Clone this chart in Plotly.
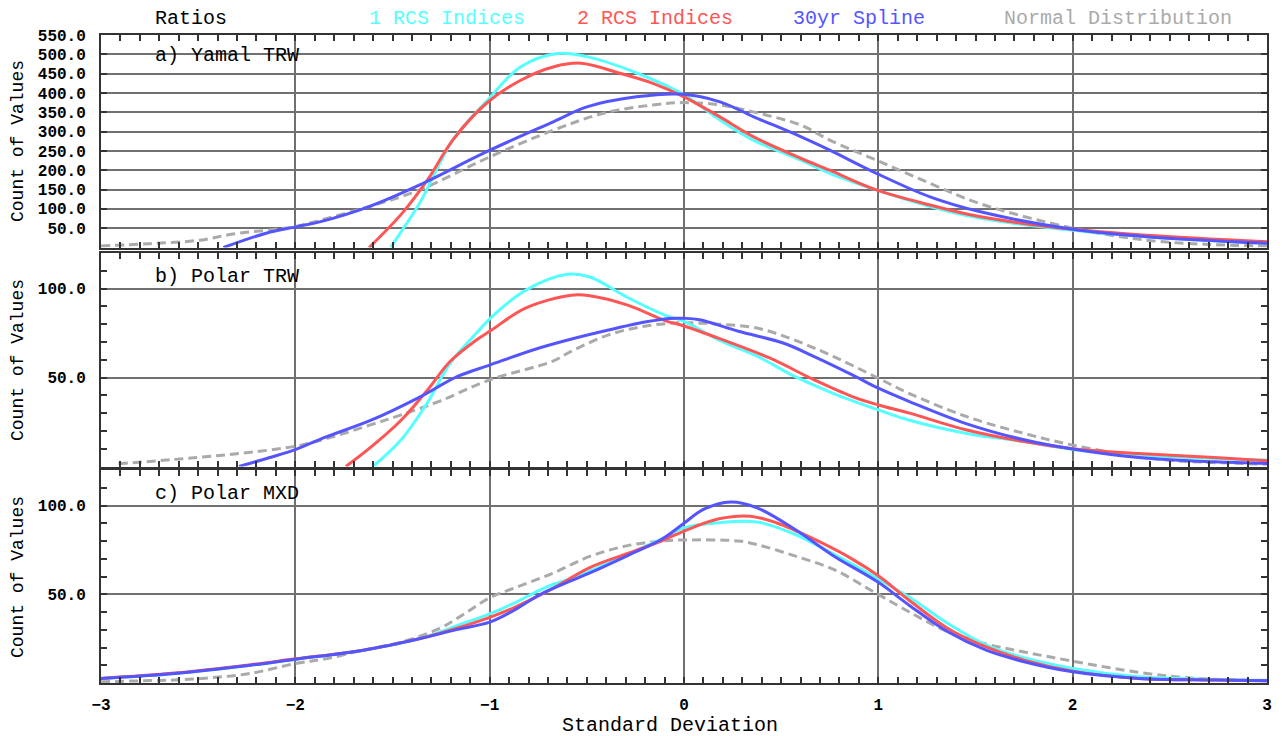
import plotly.graph_objects as go

# ---------------- data ----------------
# Panel a) Yamal TRW
a_rcs1_x = [-1.51, -1.45, -1.36, -1.19, -1.01, -0.84, -0.65, -0.5, -0.24, 0.0, 0.185, 0.356, 0.6, 0.75, 0.99, 1.266, 1.52, 1.99, 2.38, 3.0]
a_rcs1_y = [0, 45, 115, 278, 382, 468, 502, 494, 451, 395, 330, 278, 226, 192, 149, 106, 76, 45, 28, 11]
a_rcs2_x = [-1.62, -1.45, -1.32, -1.19, -1.015, -0.84, -0.67, -0.53, -0.33, -0.16, 0.0, 0.185, 0.356, 0.6, 0.75, 0.99, 1.266, 1.52, 2.0, 2.38, 3.0]
a_rcs2_y = [0, 89, 175, 278, 374, 433, 468, 477, 451, 425, 390, 338, 287, 231, 200, 149, 110, 80, 47, 32, 15]
a_spl_x = [-2.37, -2.15, -1.99, -1.87, -1.62, -1.36, -1.015, -0.67, -0.5, -0.245, -0.02, 0.185, 0.356, 0.6, 0.75, 0.99, 1.266, 1.52, 2.0, 2.38, 3.0]
a_spl_y = [0, 37, 54, 67, 106, 162, 248, 326, 364, 390, 397, 377, 339, 287, 252, 192, 131, 93, 47, 28, 11]
a_norm_x = [-3.0, -2.75, -2.49, -2.32, -2.0, -1.87, -1.62, -1.36, -1.015, -0.67, -0.41, -0.16, 0.0, 0.185, 0.356, 0.6, 0.75, 0.99, 1.266, 1.52, 2.0, 2.38, 2.7, 3.0]
a_norm_y = [4, 10, 19, 35, 54, 71, 106, 149, 231, 304, 348, 369, 375, 369, 351, 317, 278, 226, 166, 114, 50, 19, 8, 4]

# Panel b) Polar TRW
b_rcs1_x = [-1.60, -1.456, -1.32, -1.204, -1.068, -0.97, -0.816, -0.60, -0.485, -0.29, -0.097, 0.0, 0.18, 0.376, 0.57, 0.77, 1.0, 1.16, 1.455, 1.75, 2.0, 2.34, 2.73, 3.0]
b_rcs1_y = [0, 15, 36, 58, 75, 86, 99, 108, 106.5, 95, 85, 81.6, 71, 62, 50.6, 41, 31.8, 26, 18.6, 14, 9.6, 6.4, 4.5, 3.6]
b_rcs2_x = [-1.74, -1.61, -1.456, -1.32, -1.204, -1.07, -0.99, -0.816, -0.58, -0.485, -0.29, -0.097, 0.0, 0.18, 0.44, 0.67, 0.866, 1.0, 1.16, 1.455, 1.75, 2.0, 2.34, 2.73, 3.0]
b_rcs2_y = [0, 11, 26, 43, 59, 71, 76.7, 89, 96.3, 96, 90.7, 82, 79, 72, 61, 48.7, 39.3, 34.6, 30, 20.5, 14, 10, 7.3, 5, 3.2]
b_spl_x = [-2.29, -2.136, -2.0, -1.845, -1.61, -1.36, -1.165, -1.0, -0.777, -0.583, -0.388, -0.194, -0.078, 0.0, 0.08, 0.28, 0.51, 0.67, 0.866, 1.0, 1.16, 1.455, 1.75, 2.0, 2.34, 2.73, 3.0]
b_spl_y = [0, 4.9, 9.5, 16.5, 26, 39, 50.6, 57, 65.5, 71.5, 76.7, 81.3, 83.2, 83.3, 82.5, 76, 69.4, 61.8, 51.5, 44, 36.5, 24, 15, 9.8, 5, 2.6, 1.7]
b_norm_x = [-2.91, -2.62, -2.43, -2.23, -2.0, -1.845, -1.61, -1.456, -1.26, -1.0, -0.68, -0.583, -0.388, -0.194, 0.0, 0.18, 0.376, 0.57, 0.77, 1.0, 1.16, 1.455, 1.75, 2.0, 2.34, 2.54, 3.0]
b_norm_y = [1.5, 4, 5.8, 8, 11.4, 15.5, 23.5, 29, 36.6, 48.7, 59, 64.6, 74, 79, 80.8, 80, 77.8, 71, 61.8, 49.6, 41, 28, 18.6, 12, 5.5, 3.2, 1.3]

# Panel c) Polar MXD
c_rcs1_x = [-3.0, -2.62, -2.23, -2.0, -1.65, -1.36, -1.165, -1.0, -0.874, -0.72, -0.583, -0.485, -0.29, -0.117, 0.0, 0.18, 0.376, 0.57, 0.77, 1.0, 1.16, 1.36, 1.555, 1.75, 2.0, 2.34, 2.73, 3.0]
c_rcs1_y = [2.6, 5.4, 10, 13.4, 18.5, 25, 32.5, 39, 45, 53.5, 58.8, 63, 72.5, 81, 87.5, 90.3, 90.7, 83.8, 72.6, 58.6, 48.3, 33.4, 21.3, 14.2, 8.2, 3.5, 2, 1.5]
c_rcs2_x = [-3.0, -2.62, -2.23, -2.0, -1.65, -1.36, -1.165, -1.0, -0.874, -0.68, -0.485, -0.29, -0.117, 0.0, 0.18, 0.34, 0.475, 0.67, 0.866, 1.0, 1.16, 1.36, 1.555, 1.75, 2.0, 2.34, 2.73, 3.0]
c_rcs2_y = [2.6, 5.6, 10.3, 13.6, 18.5, 25, 31, 37, 42.5, 53, 65, 73, 80, 85.6, 92.5, 94, 90.3, 81, 69.8, 60.4, 46.5, 30.6, 20.3, 12.9, 6.7, 2.6, 1.7, 1.2]
c_spl_x = [-3.0, -2.62, -2.23, -2.0, -1.65, -1.36, -1.165, -1.0, -0.874, -0.738, -0.583, -0.485, -0.29, -0.117, 0.0, 0.1, 0.24, 0.376, 0.57, 0.77, 1.0, 1.16, 1.36, 1.555, 1.75, 2.0, 2.34, 2.73, 3.0]
c_spl_y = [2.6, 5.4, 10, 13.4, 18.5, 25, 30.2, 34.3, 41, 50, 57.5, 62, 71.8, 80.8, 90, 97.8, 102, 98.7, 86.6, 71.6, 56.7, 43.7, 28.7, 18.5, 12, 6.3, 2.6, 1.7, 1.2]
c_norm_x = [-3.0, -2.8, -2.62, -2.43, -2.23, -2.0, -1.845, -1.65, -1.456, -1.26, -1.13, -1.0, -0.874, -0.68, -0.485, -0.29, -0.097, 0.0, 0.28, 0.376, 0.57, 0.77, 0.966, 1.16, 1.36, 1.555, 1.75, 2.0, 2.34, 2.63, 2.9]
c_norm_y = [0.7, 1.2, 1.7, 3, 5.4, 11, 13.6, 18.5, 23, 30.6, 39, 48, 53.5, 61.6, 71.3, 77.4, 80.2, 80.6, 80, 78, 71.6, 64, 52, 40, 28.7, 22, 17.5, 12.3, 6, 2.6, 1.7]

series_names = ["1 RCS Indices", "2 RCS Indices", "30yr Spline", "Normal Distribution"]
panel_titles = ["a) Yamal TRW", "b) Polar TRW", "c) Polar MXD"]
x_ticks = [-3, -2, -1, 0, 1, 2, 3]
y_ticks_a = [50, 100, 150, 200, 250, 300, 350, 400, 450, 500, 550]
y_ticks_bc = [50, 100]

# ---------------- style ----------------
W, H = 1282, 736
ML, MR, MT, MB = 101, 15, 35, 53
PW, PH = W - ML - MR, H - MT - MB
colors = ["#55ffff", "#ff5555", "#5555ff", "#aaaaaa"]
FONT = "Liberation Mono"
FRAME = "#333333"
GRID = "#707070"


def px_x(px):
    return (px - ML) / PW


def px_y(py):
    return (H - MB - py) / PH


domains = [
    [px_y(247.5), 1.0],
    [px_y(466.5), px_y(253)],
    [0.0, px_y(470)],
]

panels = [
    [(a_rcs1_x, a_rcs1_y), (a_rcs2_x, a_rcs2_y), (a_spl_x, a_spl_y), (a_norm_x, a_norm_y)],
    [(b_rcs1_x, b_rcs1_y), (b_rcs2_x, b_rcs2_y), (b_spl_x, b_spl_y), (b_norm_x, b_norm_y)],
    [(c_rcs1_x, c_rcs1_y), (c_rcs2_x, c_rcs2_y), (c_spl_x, c_spl_y), (c_norm_x, c_norm_y)],
]

fig = go.Figure()
for p, series in enumerate(panels):
    xa = "x" if p == 0 else f"x{p+1}"
    ya = "y" if p == 0 else f"y{p+1}"
    order = [3, 0, 1, 2]
    for s in order:
        xs, ys = series[s]
        fig.add_trace(go.Scatter(
            x=xs, y=ys, mode="lines", name=series_names[s], xaxis=xa, yaxis=ya,
            showlegend=False,
            line=dict(color=colors[s], width=3, shape="spline", smoothing=1.0,
                      dash="9px,5px" if s == 3 else "solid"),
            hoverinfo="skip",
        ))

layout = dict(
    width=W, height=H,
    margin=dict(l=ML, r=MR, t=MT, b=MB, autoexpand=False),
    paper_bgcolor="white", plot_bgcolor="white",
    showlegend=False,
    font=dict(family=FONT, color="black"),
)

for p in range(3):
    xk = "xaxis" if p == 0 else f"xaxis{p+1}"
    yk = "yaxis" if p == 0 else f"yaxis{p+1}"
    ya = "y" if p == 0 else f"y{p+1}"
    xa = "x" if p == 0 else f"x{p+1}"
    layout[xk] = dict(
        domain=[0, 1], anchor=ya, range=[-3, 3],
        tickmode="array", tickvals=x_ticks, ticktext=[f"{v:d}".replace("-", "\u2212") for v in x_ticks],
        showticklabels=(p == 2),
        tickfont=dict(family=FONT, size=16, weight="bold", color="black"),
        ticks="inside", ticklen=6, tickwidth=1.5, tickcolor=FRAME,
        showgrid=True, gridcolor=GRID, gridwidth=1.5,
        showline=True, linecolor=FRAME, linewidth=2, mirror="ticks",
        zeroline=False,
        minor=dict(dtick=0.1, tick0=0, ticks="inside", ticklen=6, tickwidth=1.5,
                   tickcolor=FRAME, showgrid=False),
        ticklabelstandoff=6,
    )
    if p == 0:
        yt = y_ticks_a
        yr = [0, 550]
        minor = dict(ticks="", showgrid=False)
    else:
        yt = y_ticks_bc
        yr = [0, 120]
        minor = dict(dtick=10, tick0=0, ticks="inside", ticklen=6, tickwidth=1.5,
                     tickcolor=FRAME, showgrid=False)
    layout[yk] = dict(
        domain=domains[p], anchor=xa, range=yr,
        tickmode="array", tickvals=yt, ticktext=[f"{v:.1f}" for v in yt],
        tickfont=dict(family=FONT, size=16, weight="bold", color="black"),
        ticks="inside", ticklen=6, tickwidth=1.5, tickcolor=FRAME,
        showgrid=True, gridcolor=GRID, gridwidth=1.5,
        showline=True, linecolor=FRAME, linewidth=2, mirror="ticks",
        zeroline=False, minor=minor,
        ticklabelstandoff=10,
    )

fig.update_layout(**layout)

annotations = []
header = [("Ratios", "black", 153)] + [
    (series_names[i], colors[i], lx) for i, lx in enumerate([367, 575, 791, 1002])
]
for text, col, lx in header:
    annotations.append(dict(text=text, x=px_x(lx), y=px_y(19), xref="paper", yref="paper",
                            xanchor="left", yanchor="middle", showarrow=False,
                            font=dict(family=FONT, size=20, color=col)))
for title, cy in zip(panel_titles, [55, 276, 493]):
    annotations.append(dict(text=title, x=px_x(153), y=px_y(cy), xref="paper", yref="paper",
                            xanchor="left", yanchor="middle", showarrow=False,
                            font=dict(family=FONT, size=20, color="black")))
for cy in [141, 360, 577]:
    annotations.append(dict(text="Count of Values", x=px_x(18), y=px_y(cy), xref="paper", yref="paper",
                            xanchor="center", yanchor="middle", textangle=-90, showarrow=False,
                            font=dict(family=FONT, size=18, color="black")))
annotations.append(dict(text="Standard Deviation", x=px_x(670), y=px_y(725), xref="paper", yref="paper",
                        xanchor="center", yanchor="middle", showarrow=False,
                        font=dict(family=FONT, size=20, color="black")))
fig.update_layout(annotations=annotations)

fig.write_html(
    "out.html",
    config={"displayModeBar": False},
    post_script="document.body.style.margin='0';document.body.style.overflow='hidden';",
)
